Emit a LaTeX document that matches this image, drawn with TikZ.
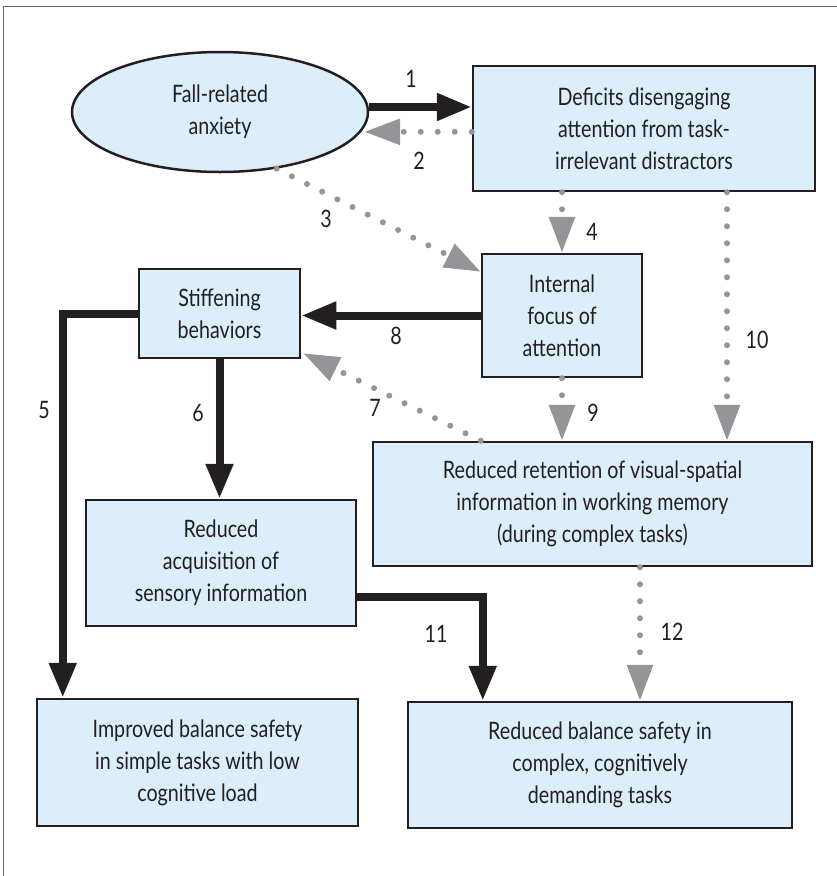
\documentclass[tikz,border=0pt]{standalone}
\usepackage{fontspec}
\setmainfont{Lato}[FakeStretch=0.82]
\usetikzlibrary{arrows.meta,shapes.geometric}
\definecolor{boxfill}{HTML}{DCEEFA}
\definecolor{boxline}{HTML}{231F20}
\definecolor{dotgrey}{HTML}{939598}
\definecolor{framegrey}{HTML}{666666}
\begin{document}
\begin{tikzpicture}[x=1pt,y=-1pt,
  every node/.style={font=\fontsize{24}{32}\selectfont, text=boxline},
  stepbox/.style={draw=boxline, fill=boxfill, line width=2.5pt, align=center, inner sep=0pt},
  solidarrow/.style={draw=boxline, line width=8pt, -{Triangle[length=35pt,width=26pt]}},
  dotarrow/.style={draw=dotgrey, line width=6pt, line cap=round, dash pattern=on 0pt off 17pt, -{Triangle[length=36pt,width=25pt]}},
  num/.style={inner sep=0pt}]
\useasboundingbox (0,0) rectangle (837,876);
\draw[framegrey, line width=1.3pt] (3.3,900) -- (3.3,6.7) -- (900,6.7);

\node[stepbox, ellipse, minimum width=296pt, minimum height=120pt] (ell) at (220,112) {Fall-related\\anxiety};
\node[stepbox, minimum width=342pt, minimum height=125pt] (defs) at (644,128.5) {Deficits disengaging\\attention from task-\\irrelevant distractors};
\node[stepbox, minimum width=160pt, minimum height=123pt] (int) at (562,315.5) {Internal\\focus of\\attention};
\node[stepbox, minimum width=161pt, minimum height=89pt] (stiff) at (219.5,313.5) {Stiffening\\behaviors};
\node[stepbox, minimum width=439pt, minimum height=124pt] (ret) at (592.5,504) {Reduced retention of visual-spatial\\information in working memory\\(during complex tasks)};
\node[stepbox, minimum width=270pt, minimum height=126pt] (acq) at (221,563) {Reduced\\acquisition of\\sensory information};
\node[stepbox, minimum width=321pt, minimum height=127pt] (imp) at (197.5,762.5) {Improved balance safety\\in simple tasks with low\\cognitive load};
\node[stepbox, minimum width=384pt, minimum height=126pt] (bal) at (600,765) {Reduced balance safety in\\complex, cognitively\\demanding tasks};

% connectors
\draw[solidarrow] ([yshift=5pt]ell.east) -- ([yshift=5pt]ell.east -| defs.west);
\draw[dotarrow] (defs.west |- ell.-8.5) -- ([xshift=3pt]ell.-8.5);
\draw[dotarrow] (ell.-45) -- ([yshift=-19pt]int.north west);
\draw[dotarrow] (int.north |- defs.south) -- (int.north);
\draw[solidarrow] (stiff.west) -| ([xshift=27pt]imp.north west);
\draw[solidarrow] (stiff.south) -- (stiff.south |- acq.north);
\draw[dotarrow] ([xshift=109pt]ret.north west) -- ([xshift=2pt,yshift=6pt]stiff.south east);
\draw[solidarrow] (int.west) -- (int.west -| stiff.east);
\draw[dotarrow] (int.south) -- (int.south |- ret.north);
\draw[dotarrow] ([xshift=83pt]defs.south) -- ([xshift=83pt]defs.south |- ret.north);
\draw[solidarrow] ([yshift=-34pt]acq.east) -| ([xshift=76pt]bal.north west);
\draw[dotarrow] ([xshift=47.5pt]ret.south) -- ([xshift=47.5pt]ret.south |- bal.north);

% labels
\node[num] (l1) at (411,79) {1};
\node[num] (l2) at (419,161) {2};
\node[num] (l3) at (326,219) {3};
\node[num] (l4) at (592,232) {4};
\node[num] (l5) at (44,410) {5};
\node[num] (l6) at (198,413) {6};
\node[num] (l7) at (375,408) {7};
\node[num] (l8) at (396,336) {8};
\node[num] (l9) at (593,413) {9};
\node[num] (l10) at (757,340) {10};
\node[num] (l11) at (436,634) {11};
\node[num] (l12) at (672,632) {12};
\end{tikzpicture}
\end{document}
